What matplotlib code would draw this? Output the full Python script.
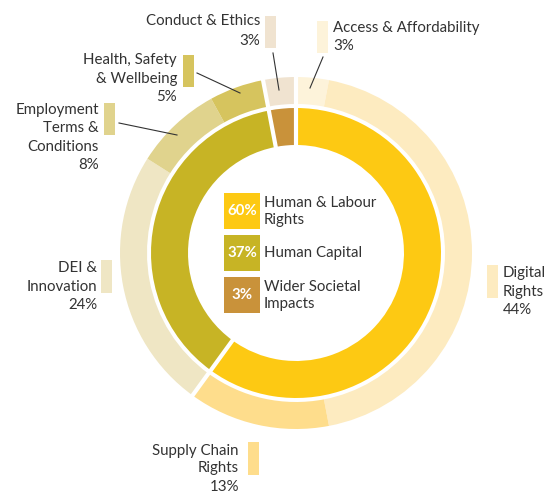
import matplotlib
matplotlib.use("Agg")
import matplotlib.pyplot as plt
import numpy as np
from matplotlib.patches import Rectangle

W, H = 555, 494

# ---- data ----
inner_labels = ["Human & Labour\nRights", "Human Capital", "Wider Societal\nImpacts"]
inner_values = [60, 37, 3]
inner_colors = ["#FDC913", "#C7B425", "#C9923A"]

outer_labels = ["Access & Affordability", "Digital\nRights", "Supply Chain\nRights",
                "DEI &\nInnovation", "Employment\nTerms &\nConditions",
                "Health, Safety\n& Wellbeing", "Conduct & Ethics"]
outer_values = [3, 44, 13, 24, 8, 5, 3]
outer_colors = ["#FDF3DA", "#FDEBC0", "#FEDD8C", "#EFE6C4", "#E0D38D", "#D6C45E", "#F0E3D0"]

TXT = "#333333"
FONT = "Lato"
FS = 10.8

fig = plt.figure(figsize=(W / 100, H / 100), dpi=100)
ax = fig.add_axes([0, 0, 1, 1])


def Y(y):
    return H - y


cx, cy = 296, Y(253)
R_out, w_out = 176, 27
R_in, w_in = 145, 37

ax.pie(outer_values, colors=outer_colors, radius=R_out, center=(cx, cy),
       startangle=90, counterclock=False,
       wedgeprops=dict(width=w_out, edgecolor="none", linewidth=0))
ax.pie(inner_values, colors=inner_colors, radius=R_in, center=(cx, cy),
       startangle=90, counterclock=False,
       wedgeprops=dict(width=w_in, edgecolor="none", linewidth=0))

# white separators at group boundaries
cum = np.cumsum([0] + inner_values[:-1]) / sum(inner_values)
for f in cum:
    a = np.deg2rad(90 - 360 * f)
    ax.plot([cx + 95 * np.cos(a), cx + 185 * np.cos(a)],
            [cy + 95 * np.sin(a), cy + 185 * np.sin(a)],
            color="white", lw=3.0, solid_capstyle="butt", zorder=5)

ax.set_xlim(0, W)
ax.set_ylim(0, H)
ax.set_aspect("equal")
ax.axis("off")


def swatch(x0, x1, y0, y1, color):
    ax.add_patch(Rectangle((x0, Y(y1)), x1 - x0, y1 - y0, facecolor=color,
                           edgecolor="none", zorder=6))


def lines(x, ys, texts, ha):
    for y, t in zip(ys, texts):
        ax.text(x, Y(y), t, ha=ha, va="center", fontsize=FS, color=TXT,
                family=FONT, zorder=7)


def leader(p0, p1):
    ax.plot([p0[0], p1[0]], [Y(p0[1]), Y(p1[1])], color=TXT, lw=0.8, zorder=7)


def pct(v):
    return f"{v}%"


# Conduct & Ethics
lines(260, [21, 41], [outer_labels[6], pct(outer_values[6])], "right")
swatch(265, 276, 16, 48, outer_colors[6])
leader((273, 53), (279, 90))

# Access & Affordability
lines(333, [28, 46], [outer_labels[0], pct(outer_values[0])], "left")
swatch(317, 328, 21, 53, outer_colors[0])
leader((323, 57), (310, 88))

# Health, Safety & Wellbeing
lines(177, [60, 79, 97], outer_labels[5].split("\n") + [pct(outer_values[5])], "right")
swatch(183, 194, 55, 87, outer_colors[5])
leader((197, 73), (240, 93))

# Employment Terms & Conditions
lines(99, [110, 128, 147, 165], outer_labels[4].split("\n") + [pct(outer_values[4])], "right")
swatch(104, 115, 103, 135, outer_colors[4])
leader((119, 123), (177, 135))

# DEI & Innovation
lines(97, [268, 287, 305], outer_labels[3].split("\n") + [pct(outer_values[3])], "right")
swatch(101, 112, 260, 293, outer_colors[3])

# Digital Rights
lines(503, [273, 292, 310], outer_labels[1].split("\n") + [pct(outer_values[1])], "left")
swatch(487, 498, 265, 298, outer_colors[1])

# Supply Chain Rights
lines(239, [451, 468, 487], outer_labels[2].split("\n") + [pct(outer_values[2])], "right")
swatch(248, 259, 442, 475, outer_colors[2])

# Center legend
box_tops = [193, 235, 277]
for top, lab, val, col in zip(box_tops, inner_labels, inner_values, inner_colors):
    swatch(224, 260, top, top + 36, col)
    ax.text(242, Y(top + 18), pct(val), ha="center", va="center", fontsize=FS,
            color="white", fontweight="bold", family=FONT, zorder=8)
    parts = lab.split("\n")
    if len(parts) == 1:
        lines(264, [top + 18], parts, "left")
    else:
        lines(264, [top + 10, top + 27], parts, "left")

fig.savefig("out.png", dpi=100)
